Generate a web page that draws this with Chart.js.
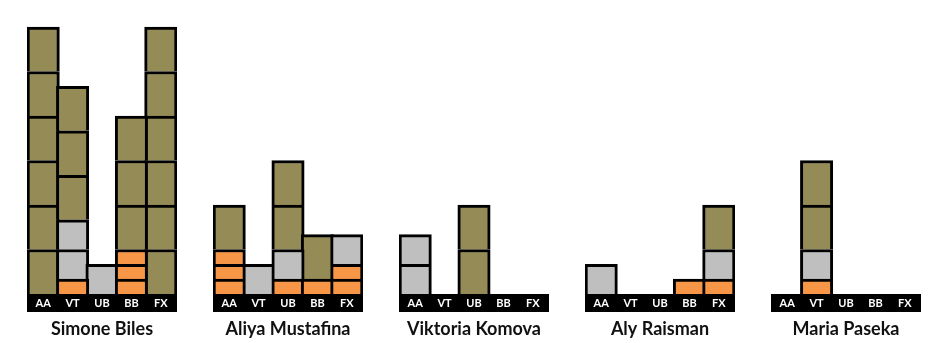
<!DOCTYPE html>
<html>
<head>
<meta charset="utf-8">
<script src="https://cdn.jsdelivr.net/npm/chart.js@4/dist/chart.umd.min.js"></script>
<style>
  html, body { margin: 0; padding: 0; background: #ffffff; }
  #wrap { position: relative; width: 945px; height: 343px; overflow: hidden; }
  #wrap canvas { position: absolute; top: 0; }
</style>
</head>
<body>
<div id="wrap"></div>
<script>
// Medal blocks per gymnast and apparatus (AA, VT, UB, BB, FX)
const gymnasts = ['Simone Biles', 'Aliya Mustafina', 'Viktoria Komova', 'Aly Raisman', 'Maria Paseka'];
const events = ['AA', 'VT', 'UB', 'BB', 'FX'];
const gold   = [[6, 3, 0, 3, 6], [1, 0, 2, 1, 0], [0, 0, 2, 0, 0], [0, 0, 0, 0, 1], [0, 2, 0, 0, 0]];
const silver = [[0, 2, 1, 0, 0], [0, 1, 1, 0, 1], [2, 0, 0, 0, 0], [1, 0, 0, 0, 1], [0, 1, 0, 0, 0]];
const bronze = [[0, 1, 0, 3, 0], [3, 0, 1, 1, 2], [0, 0, 0, 0, 0], [0, 0, 0, 1, 1], [0, 1, 0, 0, 0]];
// Block height of each medal type
const goldWeight = 3, silverWeight = 2, bronzeWeight = 1;
const scaleMax = 18;

const COLORS = { gold: '#958b57', silver: '#bfbfbf', bronze: '#f79646', edge: '#000000' };
const GROUP_LEFT = [27, 213, 399, 585, 771];
const GROUP_W = 150;
const EDGE = 3;
const BAND_H = 18;
const catW = (GROUP_W - EDGE) / events.length;

// One dataset per stacked block level: bronze at the bottom, then silver, then gold
function blockLayers(counts, weight, color) {
  const maxCount = Math.max(...counts);
  const layers = [];
  for (let k = 1; k <= maxCount; k++) {
    layers.push({
      data: counts.map(c => (c >= k ? weight : null)),
      backgroundColor: color,
      borderColor: COLORS.edge,
      borderWidth: EDGE,
      borderSkipped: 'start',
      barThickness: catW + EDGE,
      clip: false
    });
  }
  return layers;
}

// Black strip under the bars that carries the apparatus labels
const bandPlugin = {
  id: 'band',
  beforeDraw(chart) {
    const { ctx, chartArea } = chart;
    ctx.save();
    ctx.fillStyle = '#000000';
    ctx.fillRect(chartArea.left - EDGE / 2, chartArea.bottom, chartArea.width + EDGE, BAND_H);
    ctx.restore();
  }
};

const wrap = document.getElementById('wrap');
gymnasts.forEach((name, g) => {
  const canvas = document.createElement('canvas');
  canvas.width = GROUP_W;
  canvas.height = 343;
  canvas.style.left = GROUP_LEFT[g] + 'px';
  wrap.appendChild(canvas);

  const datasets = [
    ...blockLayers(bronze[g], bronzeWeight, COLORS.bronze),
    ...blockLayers(silver[g], silverWeight, COLORS.silver),
    ...blockLayers(gold[g], goldWeight, COLORS.gold)
  ];

  new Chart(canvas, {
    type: 'bar',
    data: { labels: events, datasets },
    plugins: [bandPlugin],
    options: {
      responsive: false,
      animation: false,
      events: [],
      layout: { padding: { top: 27, left: EDGE / 2, right: EDGE / 2, bottom: 2.2 } },
      plugins: { legend: { display: false }, tooltip: { enabled: false } },
      datasets: { bar: { categoryPercentage: 1, barPercentage: 1 } },
      scales: {
        x: {
          stacked: true,
          grid: { display: false, drawTicks: false },
          border: { display: false },
          ticks: {
            color: '#ffffff',
            padding: 3,
            font: { family: 'Lato', size: 11, weight: 'bold' }
          },
          title: {
            display: true,
            text: name,
            color: '#111111',
            padding: { top: 5, bottom: 1 },
            font: { family: 'Lato', size: 18, weight: 'bold' }
          }
        },
        y: {
          stacked: true,
          display: false,
          min: 0,
          max: scaleMax
        }
      }
    }
  });
});
</script>
</body>
</html>
